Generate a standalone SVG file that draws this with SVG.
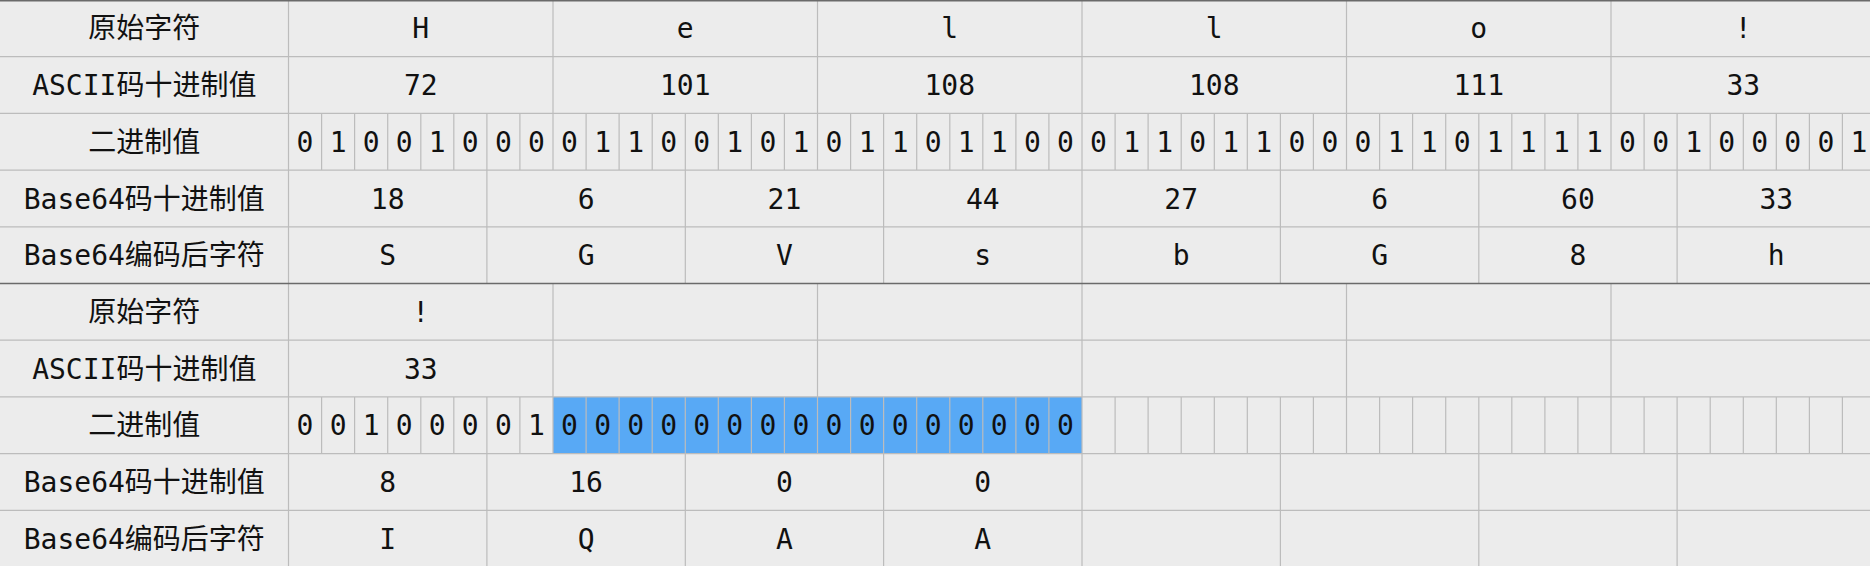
<svg xmlns="http://www.w3.org/2000/svg" width="1870" height="566" viewBox="0 0 1870 566">
<style>
.bg{fill:#ececec}
.g{stroke:#bcbcbc;stroke-width:1.2;fill:none}
.d{stroke:#6a6a6a;stroke-width:1.4;fill:none}
.blue{fill:#58a9f5}
text{font-family:"DejaVu Sans Mono","Noto Sans CJK SC",monospace;font-size:28px;fill:#111;text-anchor:middle}
</style>
<rect class="bg" x="0" y="0" width="1870" height="566"/>
<rect class="blue" x="553" y="396.9" width="529" height="56.7"/>
<g id="grid">
<path class="g" d="M0 56.7H1870M0 113.4H1870M0 170.1H1870M0 226.8H1870M0 340.2H1870M0 396.9H1870M0 453.6H1870M0 510.3H1870"/>
<path class="g" d="M288.5 0V566"/>
<path class="g" d="M553 0V113.4M817.5 0V113.4M1082 0V113.4M1346.5 0V113.4M1611 0V113.4M553 283.5V396.9M817.5 283.5V396.9M1082 283.5V396.9M1346.5 283.5V396.9M1611 283.5V396.9"/>
<path class="g" d="M486.9 170.1V283.5M685.3 170.1V283.5M883.6 170.1V283.5M1082 170.1V283.5M1280.4 170.1V283.5M1478.8 170.1V283.5M1677.1 170.1V283.5M486.9 453.6V566M685.3 453.6V566M883.6 453.6V566M1082 453.6V566M1280.4 453.6V566M1478.8 453.6V566M1677.1 453.6V566"/>
<path class="g" d="M321.6 113.4V170.1M354.6 113.4V170.1M387.7 113.4V170.1M420.8 113.4V170.1M453.8 113.4V170.1M486.9 113.4V170.1M519.9 113.4V170.1M553 113.4V170.1M586.1 113.4V170.1M619.1 113.4V170.1M652.2 113.4V170.1M685.3 113.4V170.1M718.3 113.4V170.1M751.4 113.4V170.1M784.4 113.4V170.1M817.5 113.4V170.1M850.6 113.4V170.1M883.6 113.4V170.1M916.7 113.4V170.1M949.8 113.4V170.1M982.8 113.4V170.1M1015.9 113.4V170.1M1048.9 113.4V170.1M1082 113.4V170.1M1115.1 113.4V170.1M1148.1 113.4V170.1M1181.2 113.4V170.1M1214.3 113.4V170.1M1247.3 113.4V170.1M1280.4 113.4V170.1M1313.4 113.4V170.1M1346.5 113.4V170.1M1379.6 113.4V170.1M1412.6 113.4V170.1M1445.7 113.4V170.1M1478.8 113.4V170.1M1511.8 113.4V170.1M1544.9 113.4V170.1M1577.9 113.4V170.1M1611 113.4V170.1M1644.1 113.4V170.1M1677.1 113.4V170.1M1710.2 113.4V170.1M1743.3 113.4V170.1M1776.3 113.4V170.1M1809.4 113.4V170.1M1842.4 113.4V170.1"/>
<path class="g" d="M321.6 396.9V453.6M354.6 396.9V453.6M387.7 396.9V453.6M420.8 396.9V453.6M453.8 396.9V453.6M486.9 396.9V453.6M519.9 396.9V453.6M553 396.9V453.6M586.1 396.9V453.6M619.1 396.9V453.6M652.2 396.9V453.6M685.3 396.9V453.6M718.3 396.9V453.6M751.4 396.9V453.6M784.4 396.9V453.6M817.5 396.9V453.6M850.6 396.9V453.6M883.6 396.9V453.6M916.7 396.9V453.6M949.8 396.9V453.6M982.8 396.9V453.6M1015.9 396.9V453.6M1048.9 396.9V453.6M1082 396.9V453.6M1115.1 396.9V453.6M1148.1 396.9V453.6M1181.2 396.9V453.6M1214.3 396.9V453.6M1247.3 396.9V453.6M1280.4 396.9V453.6M1313.4 396.9V453.6M1346.5 396.9V453.6M1379.6 396.9V453.6M1412.6 396.9V453.6M1445.7 396.9V453.6M1478.8 396.9V453.6M1511.8 396.9V453.6M1544.9 396.9V453.6M1577.9 396.9V453.6M1611 396.9V453.6M1644.1 396.9V453.6M1677.1 396.9V453.6M1710.2 396.9V453.6M1743.3 396.9V453.6M1776.3 396.9V453.6M1809.4 396.9V453.6M1842.4 396.9V453.6"/>
<path class="d" d="M0 0.7H1870M0 283.5H1870"/>
</g>
<g id="labels">
<text x="144.3" y="38.4">原始字符</text>
<text x="144.3" y="95.1">ASCII码十进制值</text>
<text x="144.3" y="151.8">二进制值</text>
<text x="144.3" y="208.5">Base64码十进制值</text>
<text x="144.3" y="265.2">Base64编码后字符</text>
<text x="144.3" y="321.9">原始字符</text>
<text x="144.3" y="378.6">ASCII码十进制值</text>
<text x="144.3" y="435.3">二进制值</text>
<text x="144.3" y="492">Base64码十进制值</text>
<text x="144.3" y="548.7">Base64编码后字符</text>
</g>
<g id="chars-top">
<text x="420.8" y="38.4">H</text>
<text x="685.3" y="38.4">e</text>
<text x="949.8" y="38.4">l</text>
<text x="1214.3" y="38.4">l</text>
<text x="1478.8" y="38.4">o</text>
<text x="1743.3" y="38.4">!</text>
<text x="420.8" y="95.1">72</text>
<text x="685.3" y="95.1">101</text>
<text x="949.8" y="95.1">108</text>
<text x="1214.3" y="95.1">108</text>
<text x="1478.8" y="95.1">111</text>
<text x="1743.3" y="95.1">33</text>
</g>
<g id="bits-top">
<text x="305" y="151.8">0</text><text x="338.1" y="151.8">1</text><text x="371.2" y="151.8">0</text><text x="404.2" y="151.8">0</text><text x="437.3" y="151.8">1</text><text x="470.3" y="151.8">0</text><text x="503.4" y="151.8">0</text><text x="536.5" y="151.8">0</text>
<text x="569.5" y="151.8">0</text><text x="602.6" y="151.8">1</text><text x="635.7" y="151.8">1</text><text x="668.7" y="151.8">0</text><text x="701.8" y="151.8">0</text><text x="734.8" y="151.8">1</text><text x="767.9" y="151.8">0</text><text x="801" y="151.8">1</text>
<text x="834" y="151.8">0</text><text x="867.1" y="151.8">1</text><text x="900.2" y="151.8">1</text><text x="933.2" y="151.8">0</text><text x="966.3" y="151.8">1</text><text x="999.3" y="151.8">1</text><text x="1032.4" y="151.8">0</text><text x="1065.5" y="151.8">0</text>
<text x="1098.5" y="151.8">0</text><text x="1131.6" y="151.8">1</text><text x="1164.7" y="151.8">1</text><text x="1197.7" y="151.8">0</text><text x="1230.8" y="151.8">1</text><text x="1263.8" y="151.8">1</text><text x="1296.9" y="151.8">0</text><text x="1330" y="151.8">0</text>
<text x="1363" y="151.8">0</text><text x="1396.1" y="151.8">1</text><text x="1429.2" y="151.8">1</text><text x="1462.2" y="151.8">0</text><text x="1495.3" y="151.8">1</text><text x="1528.3" y="151.8">1</text><text x="1561.4" y="151.8">1</text><text x="1594.5" y="151.8">1</text>
<text x="1627.5" y="151.8">0</text><text x="1660.6" y="151.8">0</text><text x="1693.7" y="151.8">1</text><text x="1726.7" y="151.8">0</text><text x="1759.8" y="151.8">0</text><text x="1792.8" y="151.8">0</text><text x="1825.9" y="151.8">0</text><text x="1859" y="151.8">1</text>
</g>
<g id="b64-top">
<text x="387.7" y="208.5">18</text><text x="586.1" y="208.5">6</text><text x="784.4" y="208.5">21</text><text x="982.8" y="208.5">44</text><text x="1181.2" y="208.5">27</text><text x="1379.6" y="208.5">6</text><text x="1577.9" y="208.5">60</text><text x="1776.3" y="208.5">33</text>
<text x="387.7" y="265.2">S</text><text x="586.1" y="265.2">G</text><text x="784.4" y="265.2">V</text><text x="982.8" y="265.2">s</text><text x="1181.2" y="265.2">b</text><text x="1379.6" y="265.2">G</text><text x="1577.9" y="265.2">8</text><text x="1776.3" y="265.2">h</text>
</g>
<g id="chars-bottom">
<text x="420.8" y="321.9">!</text>
<text x="420.8" y="378.6">33</text>
</g>
<g id="bits-bottom">
<text x="305" y="435.3">0</text><text x="338.1" y="435.3">0</text><text x="371.2" y="435.3">1</text><text x="404.2" y="435.3">0</text><text x="437.3" y="435.3">0</text><text x="470.3" y="435.3">0</text><text x="503.4" y="435.3">0</text><text x="536.5" y="435.3">1</text>
<text x="569.5" y="435.3">0</text><text x="602.6" y="435.3">0</text><text x="635.7" y="435.3">0</text><text x="668.7" y="435.3">0</text><text x="701.8" y="435.3">0</text><text x="734.8" y="435.3">0</text><text x="767.9" y="435.3">0</text><text x="801" y="435.3">0</text>
<text x="834" y="435.3">0</text><text x="867.1" y="435.3">0</text><text x="900.2" y="435.3">0</text><text x="933.2" y="435.3">0</text><text x="966.3" y="435.3">0</text><text x="999.3" y="435.3">0</text><text x="1032.4" y="435.3">0</text><text x="1065.5" y="435.3">0</text>
</g>
<g id="b64-bottom">
<text x="387.7" y="492">8</text><text x="586.1" y="492">16</text><text x="784.4" y="492">0</text><text x="982.8" y="492">0</text>
<text x="387.7" y="548.7">I</text><text x="586.1" y="548.7">Q</text><text x="784.4" y="548.7">A</text><text x="982.8" y="548.7">A</text>
</g>
</svg>
